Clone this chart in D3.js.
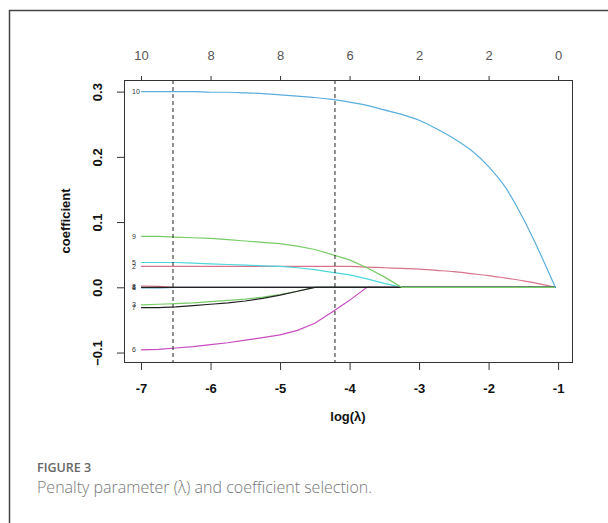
<!DOCTYPE html>
<html>
<head>
<meta charset="utf-8">
<script src="https://cdn.jsdelivr.net/npm/d3@7"></script>
<style>
  body { margin: 0; background: #fff; }
  svg { display: block; }
  .tick text { font-family: 'Liberation Sans', Arial, sans-serif; }
</style>
</head>
<body>
<svg width="608" height="523"></svg>
<script>
(function (d3) {
  'use strict';

  // log(lambda) grid shared by all paths
  const logLambda = [-7, -6.75, -6.5, -6.25, -6, -5.75, -5.5, -5.25, -5, -4.75, -4.5, -4.25,
    -4, -3.75, -3.5, -3.25, -3, -2.75, -2.5, -2.25, -2, -1.75, -1.5, -1.25, -1.04];

  // coefficient paths
  const coef1 = [0, 0, 0, 0, 0, 0, 0, 0, 0, 0, 0, 0, 0, 0, 0, 0, 0, 0, 0, 0, 0, 0, 0, 0, 0];
  const coef2 = [0.032, 0.032, 0.032, 0.032, 0.032, 0.032, 0.032, 0.032, 0.032, 0.032, 0.032, 0.032,
    0.032, 0.031, 0.030, 0.029, 0.028, 0.026, 0.024, 0.021, 0.018, 0.014, 0.010, 0.005, 0];
  const coef3 = [-0.027, -0.026, -0.025, -0.024, -0.022, -0.020, -0.018, -0.015, -0.011, -0.006, 0, 0,
    0, 0, 0, 0, 0, 0, 0, 0, 0, 0, 0, 0, 0];
  const coef4 = [-0.001, -0.001, 0, 0, 0, 0, 0, 0, 0, 0, 0, 0, 0, 0, 0, 0, 0, 0, 0, 0, 0, 0, 0, 0, 0];
  const coef5 = [0.038, 0.038, 0.038, 0.037, 0.036, 0.035, 0.034, 0.033, 0.032, 0.030, 0.027, 0.023,
    0.019, 0.013, 0.006, 0, 0, 0, 0, 0, 0, 0, 0, 0, 0];
  const coef6 = [-0.096, -0.095, -0.093, -0.091, -0.088, -0.085, -0.081, -0.077, -0.073, -0.066, -0.055, -0.038,
    -0.020, 0, 0, 0, 0, 0, 0, 0, 0, 0, 0, 0, 0];
  const coef7 = [-0.031, -0.031, -0.030, -0.028, -0.026, -0.024, -0.021, -0.017, -0.012, -0.006, 0, 0,
    0, 0, 0, 0, 0, 0, 0, 0, 0, 0, 0, 0, 0];
  const coef8 = [0.002, 0.0015, 0, 0, 0, 0, 0, 0, 0, 0, 0, 0, 0, 0, 0, 0, 0, 0, 0, 0, 0, 0, 0, 0, 0];
  const coef9 = [0.078, 0.078, 0.077, 0.076, 0.075, 0.073, 0.071, 0.069, 0.067, 0.063, 0.058, 0.050,
    0.042, 0.030, 0.016, 0, 0, 0, 0, 0, 0, 0, 0, 0, 0];
  const coef10 = [0.300, 0.300, 0.300, 0.300, 0.299, 0.299, 0.298, 0.297, 0.295, 0.293, 0.291, 0.288,
    0.284, 0.279, 0.272, 0.265, 0.256, 0.243, 0.228, 0.210, 0.185, 0.152, 0.105, 0.050, 0];

  // top axis: number of nonzero coefficients
  const bottomTicks = [-7, -6, -5, -4, -3, -2, -1];
  const topLabels = ['10', '8', '8', '6', '2', '2', '0'];
  const yTicks = [-0.1, 0, 0.1, 0.2, 0.3];
  const cutoffs = [-6.54, -4.21];

  const series = [
    { name: '8', values: coef8, color: '#d9738b' },
    { name: '4', values: coef4, color: '#4a9fd8' },
    { name: '2', values: coef2, color: '#d9738b', smooth: true },
    { name: '3', values: coef3, color: '#78cc68' },
    { name: '5', values: coef5, color: '#4dd6dc' },
    { name: '6', values: coef6, color: '#c84bbf' },
    { name: '7', values: coef7, color: '#222' },
    { name: '1', values: coef1, color: '#222' },
    { name: '9', values: coef9, color: '#78cc68' },
    { name: '10', values: coef10, color: '#5aaedc', smooth: true }
  ];

  const svg = d3.select('svg');
  const font = "'Liberation Sans', Arial, sans-serif";

  // page frame
  svg.append('rect')
    .attr('x', 9.5).attr('y', 10.5)
    .attr('width', 700).attr('height', 600)
    .attr('fill', 'none')
    .attr('stroke', '#444')
    .attr('stroke-width', 1.5);

  const box = { left: 124, right: 572, top: 80, bottom: 362 };

  const xScale = d3.scaleLinear()
    .domain([-7.245, -0.8])
    .range([box.left, box.right]);

  const yScale = d3.scaleLinear()
    .domain([-0.1145, 0.3178])
    .range([box.bottom, box.top]);

  const g = svg.append('g');

  // bottom axis
  const xAxisG = g.append('g')
    .attr('transform', `translate(0,${box.bottom})`)
    .call(d3.axisBottom(xScale).tickValues(bottomTicks).tickSize(8).tickPadding(14)
      .tickFormat(d3.format('d')));
  xAxisG.select('.domain').remove();
  xAxisG.selectAll('line').attr('stroke', '#333');
  xAxisG.selectAll('text')
    .attr('font-size', 13).attr('font-weight', 'bold').attr('fill', '#111')
    .text(d => String(d));

  // top axis
  const topAxisG = g.append('g')
    .attr('transform', `translate(0,${box.top})`)
    .call(d3.axisTop(xScale).tickValues(bottomTicks).tickSize(4).tickPadding(16)
      .tickFormat((d, i) => topLabels[i]));
  topAxisG.select('.domain').remove();
  topAxisG.selectAll('line').attr('stroke', '#333');
  topAxisG.selectAll('text')
    .attr('font-size', 13).attr('fill', '#555');

  // left axis
  const yAxisG = g.append('g')
    .attr('transform', `translate(${box.left},0)`)
    .call(d3.axisLeft(yScale).tickValues(yTicks).tickSize(7).tickFormat(d3.format('.1f')));
  yAxisG.select('.domain').remove();
  yAxisG.selectAll('line').attr('stroke', '#333');
  yAxisG.selectAll('text')
    .attr('font-size', 13).attr('font-weight', 'bold').attr('fill', '#111')
    .attr('text-anchor', 'middle')
    .attr('x', null).attr('dy', null)
    .attr('transform', 'translate(-22,0) rotate(-90)');

  // curves
  const line = d3.line()
    .x((d, i) => xScale(logLambda[i]))
    .y(d => yScale(d));
  const smoothLine = d3.line()
    .x((d, i) => xScale(logLambda[i]))
    .y(d => yScale(d))
    .curve(d3.curveMonotoneX);

  g.selectAll('path.coef').data(series)
    .enter().append('path')
      .attr('class', 'coef')
      .attr('d', d => (d.smooth ? smoothLine : line)(d.values))
      .attr('fill', 'none')
      .attr('stroke', d => d.color)
      .attr('stroke-width', 1.2);

  // cutoff lines
  g.selectAll('line.cut').data(cutoffs)
    .enter().append('line')
      .attr('class', 'cut')
      .attr('x1', d => xScale(d)).attr('x2', d => xScale(d))
      .attr('y1', box.top).attr('y2', box.bottom)
      .attr('stroke', '#222')
      .attr('stroke-dasharray', '4,3');

  // variable labels at the left end
  g.selectAll('text.lab').data(series)
    .enter().append('text')
      .attr('class', 'lab')
      .attr('x', xScale(-7) - 9)
      .attr('y', d => yScale(d.values[0]) + 2.5)
      .attr('font-family', font)
      .attr('font-size', 7)
      .attr('fill', '#333')
      .text(d => d.name);

  // plot box
  g.append('rect')
    .attr('x', box.left + 0.5).attr('y', box.top + 0.5)
    .attr('width', box.right - box.left).attr('height', box.bottom - box.top)
    .attr('fill', 'none')
    .attr('stroke', '#333');

  // axis titles
  g.append('text')
    .attr('x', (box.left + box.right) / 2).attr('y', 421)
    .attr('text-anchor', 'middle')
    .attr('font-family', font).attr('font-size', 13).attr('font-weight', 'bold')
    .attr('fill', '#111')
    .text('log(λ)');

  g.append('text')
    .attr('transform', `translate(70,${(box.top + box.bottom) / 2}) rotate(-90)`)
    .attr('text-anchor', 'middle')
    .attr('font-family', font).attr('font-size', 13).attr('font-weight', 'bold')
    .attr('fill', '#111')
    .text('coefficient');

  // caption
  svg.append('text')
    .attr('x', 37).attr('y', 472)
    .attr('font-family', "'Open Sans', sans-serif").attr('font-size', 12.5)
    .attr('font-weight', 600).attr('fill', '#666')
    .text('FIGURE 3');

  svg.append('text')
    .attr('x', 37).attr('y', 493)
    .attr('font-family', "'Open Sans', sans-serif").attr('font-size', 16)
    .attr('font-weight', 300).attr('fill', '#777')
    .text('Penalty parameter (λ) and coefficient selection.');

}(d3));
</script>
</body>
</html>
